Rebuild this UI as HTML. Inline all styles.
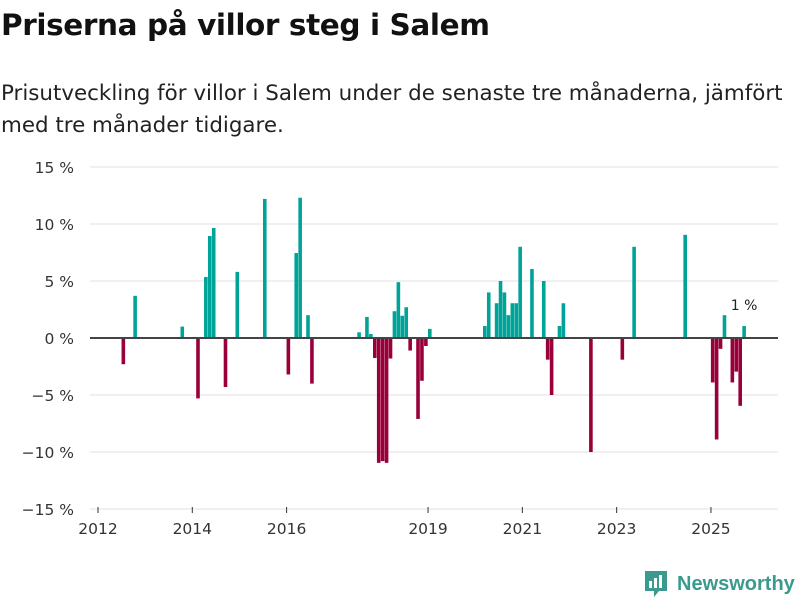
<!DOCTYPE html>
<html><head><meta charset="utf-8"><style>
body{margin:0;width:800px;height:600px;background:#fff;font-family:"DejaVu Sans","Liberation Sans",sans-serif;overflow:hidden;position:relative}
h1{position:absolute;left:1px;top:8px;margin:0;font-size:29.5px;font-weight:bold;color:#111;letter-spacing:-0.4px;white-space:nowrap}
p{position:absolute;left:1px;top:78px;margin:0;font-size:21.4px;line-height:32px;color:#222;width:799px;white-space:nowrap}
</style></head><body>
<h1>Priserna på villor steg i Salem</h1>
<p>Prisutveckling för villor i Salem under de senaste tre månaderna, jämfört<br>med tre månader tidigare.</p>
<svg id="chart" width="800" height="600" style="position:absolute;left:0;top:0;font-family:'DejaVu Sans','Liberation Sans',sans-serif"></svg>
<div style="position:absolute;left:645px;top:569px;display:flex;align-items:center">
<svg width="24" height="30"><path d="M0 2 h22 v20 h-8 l-5 6 v-6 h-9z" fill="#3a9a8d"/><rect x="4" y="12" width="3" height="7" fill="#fff"/><rect x="9" y="9" width="3" height="10" fill="#fff"/><rect x="14" y="6" width="3" height="13" fill="#fff"/></svg>
<span style="font-size:20px;font-weight:bold;color:#3a9a8d;margin-left:8px;font-family:'Liberation Sans',sans-serif">Newsworthy</span></div>
<script>
const months=[6,9,21,25,27,28,29,32,35,42,48,50,51,53,54,66,68,69,70,71,72,73,74,75,76,77,78,79,81,82,83,84,98,99,101,102,103,104,105,106,107,110,113,114,115,117,118,125,133,136,149,156,157,158,159,161,162,163,164];
const values=[-2.3,3.7,1.0,-5.3,5.35,8.95,9.65,-4.3,5.8,12.2,-3.2,7.45,12.3,2.0,-4.0,0.5,1.85,0.35,-1.75,-10.95,-10.8,-10.95,-1.8,2.35,4.9,1.95,2.7,-1.1,-7.1,-3.75,-0.7,0.8,1.05,4.0,3.05,5.0,4.0,2.0,3.05,3.05,8.0,6.05,5.0,-1.9,-5.0,1.05,3.05,-10.0,-1.9,8.0,9.05,-3.9,-8.9,-0.95,2.0,-3.9,-2.95,-5.95,1.05];
const yTicks=[15,10,5,0,-5,-10,-15];
const xTickYears=[2012,2014,2016,2019,2021,2023,2025];
const ns="http://www.w3.org/2000/svg";
const svg=document.getElementById('chart');
const y=v=>338-v*11.4;
const xm=m=>98+(m+0.45)*3.929;
const xy=yr=>98+(yr-2012)*47.15;
function el(t,a){const e=document.createElementNS(ns,t);for(const k in a)e.setAttribute(k,a[k]);svg.appendChild(e);return e;}
yTicks.forEach(v=>{
 const l=el('line',{x1:90,x2:778,y1:y(v),y2:y(v),stroke:'#e0e0e0','stroke-width':1});
 
 
 const t=el('text',{x:74,y:y(v)+6,'text-anchor':'end','font-size':15.5,fill:'#333'});
 t.textContent=(v<0?'\u2212'+(-v):v)+' %';
 
 
});
xTickYears.forEach(yr=>{
 const l=el('line',{x1:xy(yr),x2:xy(yr),y1:507,y2:513,stroke:'#333'});
 
 
 const t=el('text',{x:xy(yr),y:534,'text-anchor':'middle','font-size':15.5,fill:'#333'});
 t.textContent=yr;
 
 
});
months.forEach((m,i)=>{
 const v=values[i];
 const r=el('rect',{x:xm(m)-1.8,width:3.6,y:Math.min(y(v),y(0)),height:Math.abs(y(v)-y(0)),fill:v>=0?'#00a398':'#99003a'});
 
 
});
const z=el('line',{x1:90,x2:778,y1:y(0),y2:y(0),stroke:'#444','stroke-width':2});


const li=months.length-1;
const lab=el('text',{x:xm(months[li]),y:y(values[li])-16,'text-anchor':'middle','font-size':14,fill:'#222'});
lab.textContent=Math.round(values[li])+' %';


</script>
</body></html>
